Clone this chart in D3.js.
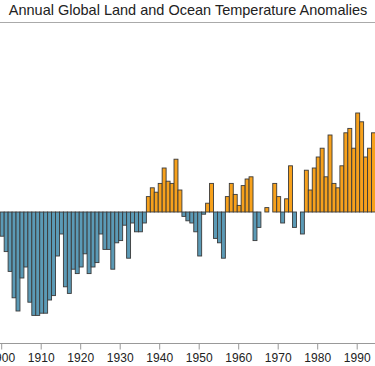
<!DOCTYPE html>
<html><head><meta charset="utf-8">
<script src="https://cdn.jsdelivr.net/npm/d3@7"></script>
<style>html,body{margin:0;padding:0;background:#fff;overflow:hidden}</style>
</head><body><svg id="chart" width="375" height="366"></svg>
<script>
const title = "Annual Global Land and Ocean Temperature Anomalies";
const years = [1900,1901,1902,1903,1904,1905,1906,1907,1908,1909,
  1910,1911,1912,1913,1914,1915,1916,1917,1918,1919,
  1920,1921,1922,1923,1924,1925,1926,1927,1928,1929,
  1930,1931,1932,1933,1934,1935,1936,1937,1938,1939,
  1940,1941,1942,1943,1944,1945,1946,1947,1948,1949,
  1950,1951,1952,1953,1954,1955,1956,1957,1958,1959,
  1960,1961,1962,1963,1964,1965,1966,1967,1968,1969,
  1970,1971,1972,1973,1974,1975,1976,1977,1978,1979,
  1980,1981,1982,1983,1984,1985,1986,1987,1988,1989,
  1990,1991,1992,1993,1994];
const anomalies = [-0.11,-0.18,-0.27,-0.39,-0.45,-0.30,-0.25,-0.41,-0.47,-0.47,
  -0.46,-0.46,-0.40,-0.38,-0.20,-0.10,-0.34,-0.37,-0.26,-0.28,
  -0.25,-0.19,-0.28,-0.25,-0.23,-0.10,-0.17,-0.17,-0.26,-0.14,
  -0.13,-0.06,-0.21,-0.05,-0.09,-0.09,-0.05,0.07,0.11,0.09,
  0.13,0.20,0.14,0.13,0.24,0.10,-0.02,-0.04,-0.05,-0.09,
  -0.20,-0.01,0.04,0.13,-0.12,-0.14,-0.21,0.07,0.13,0.08,
  0.03,0.12,0.15,0.16,-0.13,-0.07,0.00,0.02,0.00,0.13,
  0.07,-0.05,0.06,0.21,-0.07,0.00,-0.10,0.19,0.10,0.20,
  0.25,0.29,0.16,0.35,0.13,0.11,0.21,0.36,0.38,0.29,
  0.45,0.41,0.25,0.29,0.36];
const tickYears = [1900,1910,1920,1930,1940,1950,1960,1970,1980,1990];
const tickLabels = ["1900","1910","1920","1930","1940","1950","1960","1970","1980","1990"];

const W = 375, H = 366;
const font = "'Liberation Sans', Arial, Helvetica, sans-serif";
const svg = d3.select("#chart");

const x = d3.scaleLinear().domain([1900, 1990]).range([1.2, 356.7]);
const y = d3.scaleLinear().domain([-0.5, 0.5]).range([322, 102]);

svg.append("text")
  .attr("x", 188).attr("y", 15)
  .attr("text-anchor", "middle")
  .style("font-family", font).style("font-size", "14.5px")
  .attr("fill", "#222")
  .text(title);

svg.append("line")
  .attr("x1", 0).attr("x2", W).attr("y1", 22.5).attr("y2", 22.5)
  .attr("stroke", "#aaa").attr("stroke-width", 1);

const data = years.map((yr, i) => ({year: yr, value: anomalies[i]})).filter(d => d.value !== 0);

svg.append("g").selectAll("rect").data(data).join("rect")
  .attr("x", d => x(d.year - 0.25))
  .attr("width", d => x(d.year + 0.75) - x(d.year - 0.25))
  .attr("y", d => Math.min(y(d.value), y(0)))
  .attr("height", d => Math.abs(y(d.value) - y(0)))
  .attr("fill", d => d.value > 0 ? "#f7a11c" : "#5b9ab6")
  .attr("stroke", "#3a3a3a")
  .attr("stroke-width", 0.9);

const axis = d3.axisBottom(x)
  .tickValues(tickYears)
  .tickFormat((d, i) => tickLabels[i])
  .tickSize(6).tickSizeOuter(0).tickPadding(4);

const gx = svg.append("g").attr("transform", "translate(0,343.5)").call(axis);
gx.select(".domain").attr("d", `M0,0H${W}`).attr("stroke", "#999");
gx.selectAll(".tick line").attr("stroke", "#999");
gx.selectAll(".tick text").style("font-family", font).style("font-size", "12px").attr("fill", "#222");
</script></body></html>
